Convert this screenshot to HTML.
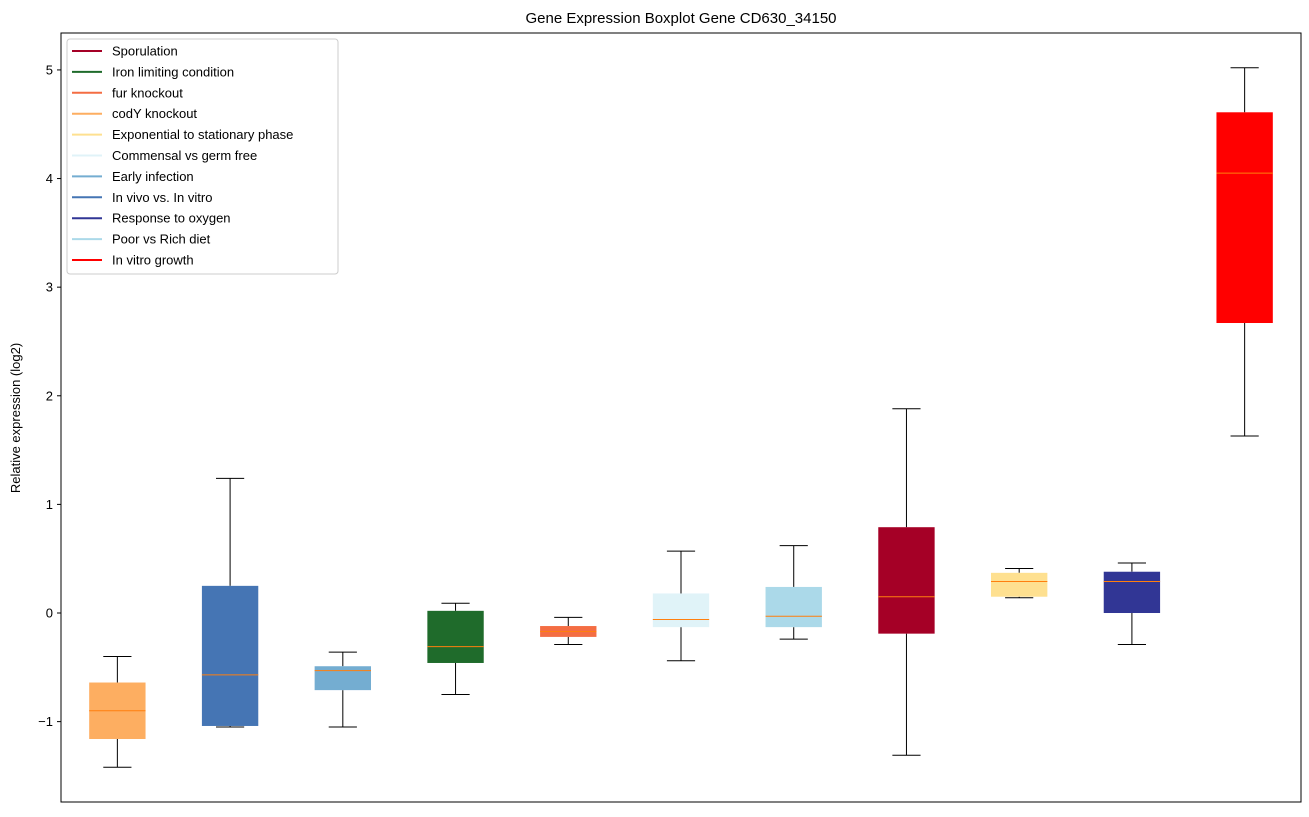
<!DOCTYPE html>
<html><head><meta charset="utf-8"><style>
body{margin:0;background:#fff;font-family:"Liberation Sans",sans-serif}
</style></head><body>
<svg id="chart" width="1309" height="812" xmlns="http://www.w3.org/2000/svg" font-family="Liberation Sans, sans-serif"></svg>
<script>
const categories=["codY knockout","In vivo vs. In vitro","Early infection","Iron limiting condition","fur knockout","Commensal vs germ free","Poor vs Rich diet","Sporulation","Exponential to stationary phase","Response to oxygen","In vitro growth"];
const colors=["#fdae61","#4575b4","#74add1","#1f6b2b","#f46d43","#e0f3f8","#abd9e9","#a50026","#fee090","#313695","#ff0000"];
const whiskerLow=[-1.42,-1.05,-1.05,-0.75,-0.29,-0.44,-0.24,-1.31,0.14,-0.29,1.63];
const q1=[-1.16,-1.04,-0.71,-0.46,-0.22,-0.13,-0.13,-0.19,0.15,0.0,2.67];
const median=[-0.90,-0.57,-0.53,-0.31,-0.17,-0.06,-0.03,0.15,0.29,0.29,4.05];
const q3=[-0.64,0.25,-0.49,0.02,-0.12,0.18,0.24,0.79,0.37,0.38,4.61];
const whiskerHigh=[-0.40,1.24,-0.36,0.09,-0.04,0.57,0.62,1.88,0.41,0.46,5.02];
const yTicks=[-1,0,1,2,3,4,5];
const yTickLabels=["\u22121","0","1","2","3","4","5"];
const legendLabels=["Sporulation","Iron limiting condition","fur knockout","codY knockout","Exponential to stationary phase","Commensal vs germ free","Early infection","In vivo vs. In vitro","Response to oxygen","Poor vs Rich diet","In vitro growth"];
const legendColors=["#a50026","#1f6b2b","#f46d43","#fdae61","#fee090","#e0f3f8","#74add1","#4575b4","#313695","#abd9e9","#ff0000"];

const svg=document.getElementById('chart');const NS="http://www.w3.org/2000/svg";
const L=61,R=1301,T=33,B=802,ymin=-1.74,ymax=5.34;
const x=i=>L+(i+0.5)*(R-L)/categories.length;
const y=v=>B-(v-ymin)/(ymax-ymin)*(B-T);
function el(t,a,p){const e=document.createElementNS(NS,t);for(const k in a)e.setAttribute(k,a[k]);(p||svg).appendChild(e);return e;}
const bw=0.5*(R-L)/categories.length;
categories.forEach((c,i)=>{
 const g=el('g',{});
 
 
 const cx=x(i);
 el('line',{x1:cx,x2:cx,y1:y(q3[i]),y2:y(whiskerHigh[i]),stroke:'#000','stroke-width':1},g);
 el('line',{x1:cx,x2:cx,y1:y(q1[i]),y2:y(whiskerLow[i]),stroke:'#000','stroke-width':1},g);
 el('line',{x1:cx-bw/4,x2:cx+bw/4,y1:y(whiskerHigh[i]),y2:y(whiskerHigh[i]),stroke:'#000','stroke-width':1},g);
 el('line',{x1:cx-bw/4,x2:cx+bw/4,y1:y(whiskerLow[i]),y2:y(whiskerLow[i]),stroke:'#000','stroke-width':1},g);
 el('rect',{x:cx-bw/2,y:y(q3[i]),width:bw,height:Math.max(1,y(q1[i])-y(q3[i])),fill:colors[i]},g);
 el('line',{x1:cx-bw/2,x2:cx+bw/2,y1:y(median[i]),y2:y(median[i]),stroke:'#ff7f0e','stroke-width':1},g);
});
el('rect',{x:L,y:T,width:R-L,height:B-T,fill:'none',stroke:'#000','stroke-width':1});
yTicks.forEach((v,i)=>{
 el('line',{x1:L-4,x2:L,y1:y(v),y2:y(v),stroke:'#000'});
 const t=el('text',{x:L-8,y:y(v)+4.5,'text-anchor':'end','font-size':13});t.textContent=yTickLabels[i];
 
});
const ti=el('text',{x:(L+R)/2,y:23,'text-anchor':'middle','font-size':15});ti.textContent="Gene Expression Boxplot Gene CD630_34150";

const ya=el('text',{x:20,y:418,'text-anchor':'middle','font-size':13,transform:'rotate(-90 20 418)'});ya.textContent="Relative expression (log2)";

const lg=el('g',{});
el('rect',{x:67,y:39,width:271,height:235,fill:'#fff',stroke:'#ccc',rx:3},lg);
legendLabels.forEach((s,i)=>{
 const e=el('g',{},lg);
 const yy=51+i*20.9;
 el('line',{x1:72,x2:102,y1:yy,y2:yy,stroke:legendColors[i],'stroke-width':2},e);
 const t=el('text',{x:112,y:yy+4.5,'font-size':13},e);t.textContent=s;
});
</script>
</body></html>
